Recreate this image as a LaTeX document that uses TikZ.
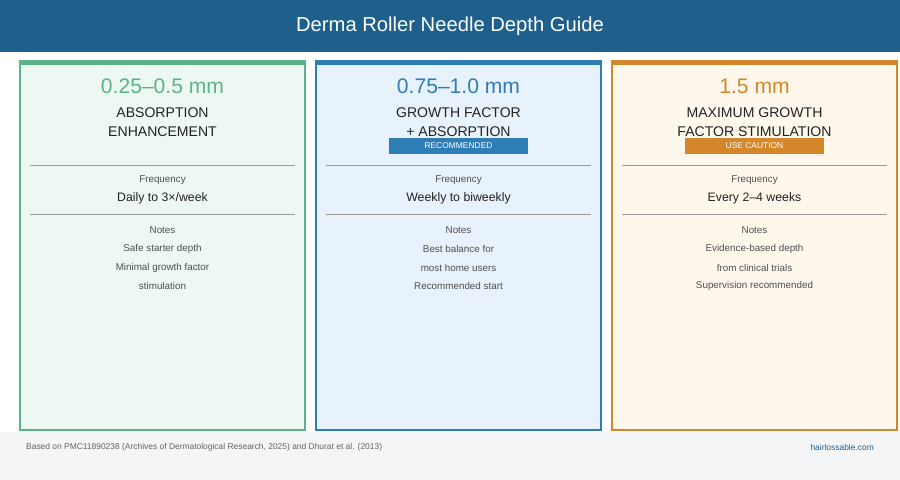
\documentclass[tikz,border=0pt]{standalone}
\usepackage{fontspec}
\setmainfont{Liberation Sans}
\definecolor{titlebar}{HTML}{1F5F8B}
\definecolor{pagebg}{HTML}{F4F5F7}
\definecolor{greenline}{HTML}{5BB38A}
\definecolor{greenfill}{HTML}{EEF8F2}
\definecolor{blueline}{HTML}{2F7DB5}
\definecolor{bluefill}{HTML}{E8F2FC}
\definecolor{orangeline}{HTML}{D4862A}
\definecolor{orangefill}{HTML}{FEF8EC}
\definecolor{textdark}{HTML}{222222}
\definecolor{rulegrey}{HTML}{999999}
\tikzset{
  card/.style={draw=#1line, fill=#1fill, line width=1.2pt},
  depth/.style={font=\fontsize{12}{14}\selectfont, text=#1line},
  headline/.style={font=\fontsize{8}{11}\selectfont, text=textdark, align=center},
  label/.style={font=\fontsize{5.6}{7}\selectfont, text=textdark!80},
  value/.style={font=\fontsize{7}{9}\selectfont, text=textdark},
  badge/.style={fill=#1line, text=white, font=\fontsize{4.8}{6}\selectfont, minimum width=3.97cm*0.7, minimum height=0.32cm, inner sep=0pt}
}
\newcommand{\card}[9]{%
  % #1 colour, #2 left x, #3 depth, #4 headline, #5 badge, #6 frequency, #7-#9 notes
  \filldraw[card=#1] (#2,62) rectangle ++(285,368);
  \fill[#1line] (#2-0.6,60) rectangle ++(286.2,5);
  \node[depth=#1] (#1depth) at (#2+142.5,86) {#3};
  \node[headline, anchor=north] (#1head) at (#2+142.5,101) {#4};
  \if\relax\detokenize{#5}\relax\else
    \node[badge=#1] (#1badge) at (#2+142.5,146) {#5};
  \fi
  \draw[rulegrey, line width=0.4pt] (#2+10,165) -- (#2+275,165);
  \node[label] (#1freq) at (#2+142.5,180) {Frequency};
  \node[value] (#1val) at (#2+142.5,198) {#6};
  \draw[rulegrey, line width=0.4pt] (#2+10,214) -- (#2+275,214);
  \node[label] (#1notes) at (#2+142.5,230) {Notes};
  \node[label] (#1na) at (#2+142.5,249) {#7};
  \node[label] (#1nb) at (#2+142.5,268) {#8};
  \node[label] (#1nc) at (#2+142.5,286) {#9};
}
\begin{document}
\begin{tikzpicture}[x=0.02cm, y=-0.02cm]
\useasboundingbox (0,0) rectangle (900,480);
\fill[white] (0,0) rectangle (900,480);
\fill[pagebg] (0,432) rectangle (900,480);
\fill[titlebar] (0,0) rectangle (900,52);
\node[text=white, font=\fontsize{11.5}{14}\selectfont] (title) at (450,26) {Derma Roller Needle Depth Guide};

\card{green}{20}{0.25--0.5 mm}{ABSORPTION\\ENHANCEMENT}{}{Daily to 3×/week}{Safe starter depth}{Minimal growth factor}{stimulation}
\card{blue}{316}{0.75--1.0 mm}{GROWTH FACTOR\\+ ABSORPTION}{RECOMMENDED}{Weekly to biweekly}{Best balance for}{most home users}{Recommended start}
\card{orange}{612}{1.5 mm}{MAXIMUM GROWTH\\FACTOR STIMULATION}{USE CAUTION}{Every 2--4 weeks}{Evidence-based depth}{from clinical trials}{Supervision recommended}

\node[anchor=west, text=textdark!70, font=\fontsize{4.8}{6}\selectfont] (source) at (20,447) {Based on PMC11890238 (Archives of Dermatological Research, 2025) and Dhurat et al. (2013)};
\node[anchor=east, text=titlebar, font=\fontsize{4.8}{6}\selectfont] (site) at (880,447) {hairlossable.com};
\end{tikzpicture}
\end{document}
